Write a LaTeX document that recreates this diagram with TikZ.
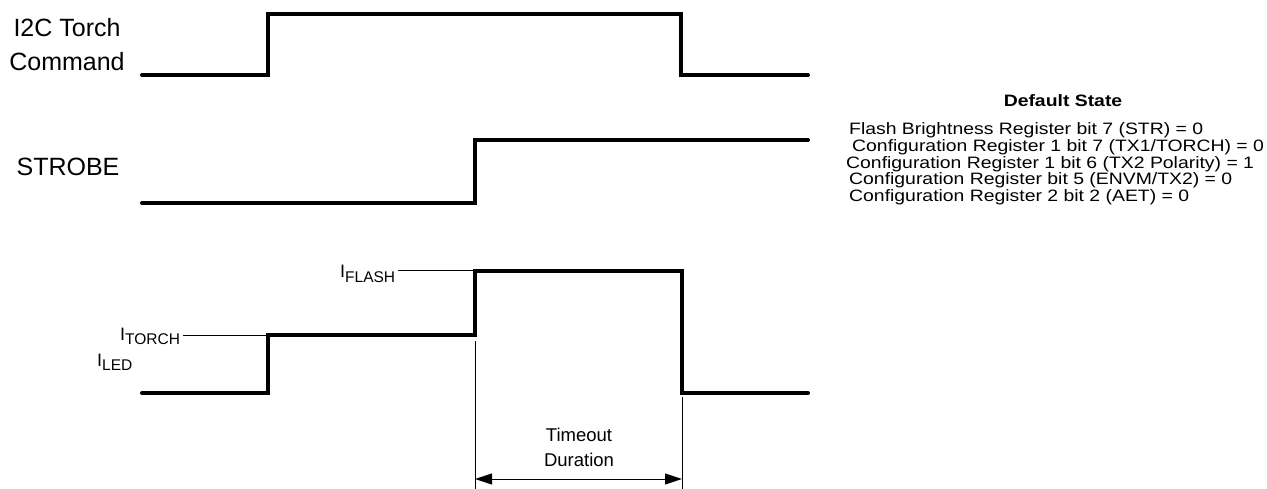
\documentclass[tikz,border=0pt]{standalone}
\usepackage{fontspec}
\setmainfont{Liberation Sans}
\usetikzlibrary{arrows.meta}

\newcommand{\lvlname}[1]{I\raisebox{-4.5pt}{\fontsize{15.5}{17}\selectfont #1}}
\newcommand{\widetext}[1]{\scalebox{1.175}[1]{#1}}

\tikzset{
  wave/.style={line width=4pt, line join=miter, line cap=round},
  guide/.style={line width=1pt},
  siglabel/.style={font=\fontsize{25}{34}\selectfont, align=center, inner sep=0pt},
  lvllabel/.style={font=\fontsize{18}{20}\selectfont, inner sep=0pt, anchor=base west},
  statetext/.style={font=\fontsize{16.5}{18}\selectfont, inner sep=0pt, anchor=base west},
}

\begin{document}
\begin{tikzpicture}[x=1pt, y=-1pt]
  \useasboundingbox (0,0) rectangle (1267,489);

  % signal names
  \node[siglabel](cmd) at (67,45) {I2C Torch\\Command};
  \node[siglabel](strobe) at (68,167) {STROBE};

  % waveforms
  \draw[wave] (142,75) -- (268,75) -- (268,14) -- (681,14) -- (681,75) -- (808,75);
  \draw[wave] (142,203) -- (475,203) -- (475,140) -- (808,140);
  \draw[wave] (142,393) -- (268,393) -- (268,335) -- (475,335) -- (475,271)
              -- (682,271) -- (682,393) -- (808,393);

  % current levels
  \coordinate(flash) at (475,271);
  \coordinate(torch) at (268,335);
  \node[lvllabel](iflash) at (340,278) {\lvlname{FLASH}};
  \node[lvllabel](itorch) at (120,340) {\lvlname{TORCH}};
  \node[lvllabel](iled) at (97,366) {\lvlname{LED}};
  \draw[guide] ([xshift=3pt]iflash.east |- flash) -- (flash);
  \draw[guide] ([xshift=3pt]itorch.east |- torch) -- (torch);

  % timeout duration
  \coordinate(tsa) at (475,341);
  \coordinate(tsb) at (475,489);
  \coordinate(tea) at (682,397);
  \coordinate(teb) at (682,489);
  \draw[guide] (tsa) -- (tsb);
  \draw[guide] (tea) -- (teb);
  \draw[guide, {Triangle[length=17pt,width=11pt]}-{Triangle[length=17pt,width=11pt]}]
    (475,479) -- (682,479);
  \node[font=\fontsize{18.5}{25}\selectfont, align=center](timeout) at (579,447) {Timeout\\Duration};

  % default state
  \node[font=\bfseries\fontsize{16.5}{18}\selectfont, inner sep=0pt, anchor=base](title) at (1063,107) {\widetext{Default State}};
  \node[statetext](st1) at (849,135) {\widetext{Flash Brightness Register bit 7 (STR) = 0}};
  \node[statetext](st2) at (852,151.7) {\widetext{Configuration Register 1 bit 7 (TX1/TORCH) = 0}};
  \node[statetext](st3) at (846,168.4) {\widetext{Configuration Register 1 bit 6 (TX2 Polarity) = 1}};
  \node[statetext](st4) at (849,185) {\widetext{Configuration Register bit 5 (ENVM/TX2) = 0}};
  \node[statetext](st5) at (849,201.7) {\widetext{Configuration Register 2 bit 2 (AET) = 0}};
\end{tikzpicture}
\end{document}
